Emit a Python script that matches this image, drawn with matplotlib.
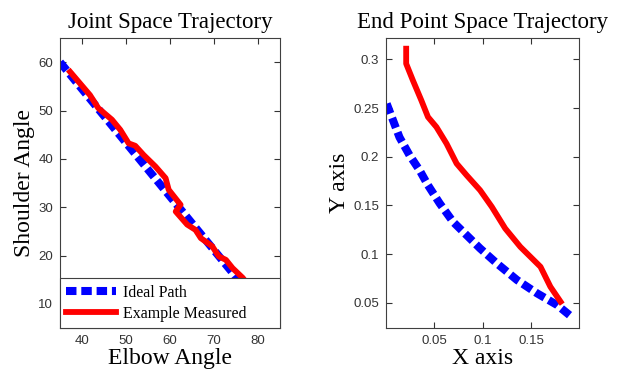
import numpy as np
import matplotlib
matplotlib.use('Agg')
import matplotlib.pyplot as plt

# joint space data (elbow, shoulder) in degrees
ideal_elbow = [35, 80]
ideal_shoulder = [60, 10]
meas_elbow = [37.3, 41.8, 43.7, 46.8, 48.7, 50.6, 52.1, 54.0, 56.7, 59.0, 59.7,
              62.4, 61.3, 63.9, 65.8, 67.0, 69.6, 71.1, 72.7, 74.2, 76.5, 79.0]
meas_shoulder = [58.0, 53.2, 50.5, 48.1, 46.0, 43.2, 42.7, 40.8, 38.4, 36.0, 33.6,
                 30.5, 29.1, 26.4, 25.3, 23.6, 21.9, 19.8, 19.1, 17.4, 15.4, 12.5]

# end point space data (x, y)
ideal_x = [0.0012, 0.0144, 0.0248, 0.0352, 0.0438, 0.0559, 0.0697, 0.0836, 0.0975,
           0.1148, 0.1356, 0.1563, 0.177, 0.19]
ideal_y = [0.2545, 0.220, 0.2015, 0.186, 0.1707, 0.152, 0.133, 0.1194, 0.1058,
           0.0904, 0.0733, 0.0596, 0.0476, 0.037]
meas_x = [0.0213, 0.0213, 0.0282, 0.0369, 0.0438, 0.0525, 0.0629, 0.0733, 0.0836,
          0.0975, 0.1096, 0.1234, 0.139, 0.1598, 0.170, 0.1805]
meas_y = [0.311, 0.2956, 0.2785, 0.258, 0.2408, 0.2305, 0.2135, 0.193, 0.181,
          0.1656, 0.1485, 0.1263, 0.1074, 0.0869, 0.0664, 0.051]

serif = 'Liberation Serif'
sans = 'Liberation Sans'

fig = plt.figure(figsize=(6.21, 3.76), dpi=100)
W, H = 621, 376
ax1 = fig.add_axes([60 / W, 1 - 328 / H, 220 / W, 290 / H])
ax2 = fig.add_axes([386 / W, 1 - 328 / H, 193 / W, 290 / H])

ax1.plot(ideal_elbow, ideal_shoulder, color='#0000ff', lw=5.8, ls=(0, (1.3, 0.6)),
         label='Ideal Path', solid_capstyle='butt', dash_capstyle='butt')
ax1.plot(meas_elbow, meas_shoulder, color='#ff0000', lw=4.2, label='Example Measured')
ax1.set_xlim(35, 85)
ax1.set_ylim(5, 65)
ax1.set_xticks([40, 50, 60, 70, 80])
ax1.set_yticks([10, 20, 30, 40, 50, 60])
ax1.set_title('Joint Space Trajectory', fontsize=16.5, family=serif, pad=7)
ax1.set_xlabel('Elbow Angle', fontsize=17, family=serif, labelpad=1)
ax1.set_ylabel('Shoulder Angle', fontsize=17, family=serif, labelpad=2)
leg = ax1.legend(loc='lower left', bbox_to_anchor=(0, 0, 1, 0.172), mode='expand',
                 borderaxespad=0, fancybox=False, framealpha=1, edgecolor='#404040',
                 prop={'family': serif, 'size': 11.5}, handlelength=3.1,
                 handletextpad=0.45, labelspacing=0.3, borderpad=0.4)
leg.get_frame().set_linewidth(0.8)

ax2.plot(ideal_x, ideal_y, color='#0000ff', lw=5.8, ls=(0, (1.3, 0.6)),
         dash_capstyle='butt')
ax2.plot(meas_x, meas_y, color='#ff0000', lw=4.2)
ax2.set_xlim(0.0005, 0.1995)
ax2.set_ylim(0.024, 0.322)
ax2.set_xticks([0.05, 0.1, 0.15])
ax2.set_xticklabels(['0.05', '0.1', '0.15'])
ax2.set_yticks([0.05, 0.1, 0.15, 0.2, 0.25, 0.3])
ax2.set_yticklabels(['0.05', '0.1', '0.15', '0.2', '0.25', '0.3'])
ax2.set_title('End Point Space Trajectory', fontsize=16.5, family=serif, pad=7)
ax2.set_xlabel('X axis', fontsize=17, family=serif, labelpad=1)
ax2.set_ylabel('Y axis', fontsize=17, family=serif, labelpad=2)

for ax in (ax1, ax2):
    ax.tick_params(direction='in', top=True, right=True, length=4, width=0.8,
                   labelsize=9.5, colors='#333333', pad=5)
    for lab in ax.get_xticklabels() + ax.get_yticklabels():
        lab.set_family(sans)
    for s in ax.spines.values():
        s.set_color('#404040')
        s.set_linewidth(0.8)

fig.savefig('out.png', dpi=100)
